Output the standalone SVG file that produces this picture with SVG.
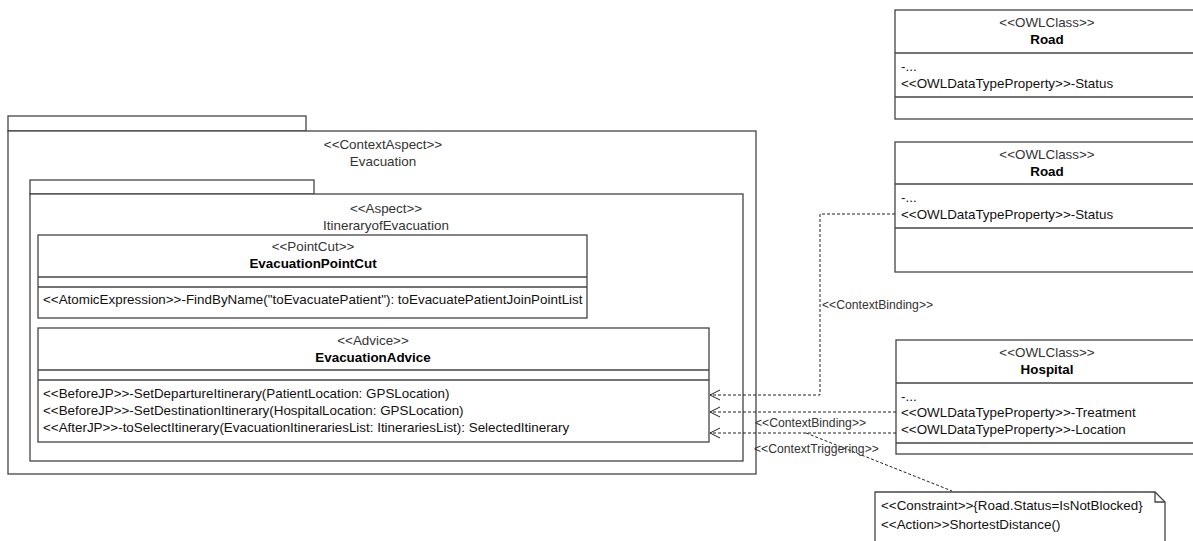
<svg xmlns="http://www.w3.org/2000/svg" width="1193" height="541" viewBox="0 0 1193 541">
<defs>
<style>
.box{fill:#fff;stroke:#444;stroke-width:1.3}
.ln{stroke:#444;stroke-width:1.3}
.t{font-family:"Liberation Sans",Arial,sans-serif;font-size:13.4px;fill:#111}
.st{font-family:"Liberation Sans",Arial,sans-serif;font-size:13.4px;fill:#333}
.c{text-anchor:middle}
.b{font-weight:bold;fill:#000}
.lbl{font-family:"Liberation Sans",Arial,sans-serif;font-size:12.2px;fill:#333}
.dash{fill:none;stroke:#222;stroke-width:1;stroke-dasharray:3,2}
</style>
<marker id="open" markerWidth="12" markerHeight="12" refX="11" refY="6" orient="auto" markerUnits="userSpaceOnUse">
<path d="M1,1 L11,6 L1,11" fill="none" stroke="#222" stroke-width="1"/>
</marker>
</defs>
<rect width="1193" height="541" fill="#fff"/>

<g id="contextaspect-evacuation">
<rect class="box" x="8" y="116" width="298" height="15"/>
<rect class="box" x="8" y="131" width="748" height="343"/>
<text class="st c" x="383" y="149">&lt;&lt;ContextAspect&gt;&gt;</text>
<text class="st c" x="383" y="166">Evacuation</text>
</g>

<g id="aspect-itinerary">
<rect class="box" x="30" y="180" width="284" height="14"/>
<rect class="box" x="30" y="194" width="713" height="267"/>
<text class="st c" x="386" y="213">&lt;&lt;Aspect&gt;&gt;</text>
<text class="st c" x="386" y="230">ItineraryofEvacuation</text>
</g>

<g id="pointcut">
<rect class="box" x="38" y="235" width="549" height="83"/>
<line class="ln" x1="38" y1="277" x2="587" y2="277"/>
<line class="ln" x1="38" y1="287" x2="587" y2="287"/>
<text class="st c" x="313" y="251">&lt;&lt;PointCut&gt;&gt;</text>
<text class="t c b" x="313" y="268">EvacuationPointCut</text>
<text class="t" x="43" y="304">&lt;&lt;AtomicExpression&gt;&gt;-FindByName("toEvacuatePatient"): toEvacuatePatientJoinPointList</text>
</g>

<g id="advice">
<rect class="box" x="38" y="328" width="671" height="114"/>
<line class="ln" x1="38" y1="370" x2="709" y2="370"/>
<line class="ln" x1="38" y1="380" x2="709" y2="380"/>
<text class="st c" x="373" y="345">&lt;&lt;Advice&gt;&gt;</text>
<text class="t c b" x="373" y="362">EvacuationAdvice</text>
<text class="t" x="43" y="398">&lt;&lt;BeforeJP&gt;&gt;-SetDepartureItinerary(PatientLocation: GPSLocation)</text>
<text class="t" x="43" y="415">&lt;&lt;BeforeJP&gt;&gt;-SetDestinationItinerary(HospitalLocation: GPSLocation)</text>
<text class="t" x="43" y="432">&lt;&lt;AfterJP&gt;&gt;-toSelectItinerary(EvacuationItinerariesList: ItinerariesList): SelectedItinerary</text>
</g>

<g id="road1">
<rect class="box" x="895" y="10" width="305" height="109"/>
<line class="ln" x1="895" y1="53" x2="1200" y2="53"/>
<line class="ln" x1="895" y1="97" x2="1200" y2="97"/>
<text class="st c" x="1047" y="27">&lt;&lt;OWLClass&gt;&gt;</text>
<text class="t c b" x="1047" y="44">Road</text>
<text class="t" x="901" y="71">-...</text>
<text class="t" x="901" y="88">&lt;&lt;OWLDataTypeProperty&gt;&gt;-Status</text>
</g>

<g id="road2">
<rect class="box" x="895" y="142" width="305" height="130"/>
<line class="ln" x1="895" y1="184" x2="1200" y2="184"/>
<line class="ln" x1="895" y1="228" x2="1200" y2="228"/>
<text class="st c" x="1047" y="159">&lt;&lt;OWLClass&gt;&gt;</text>
<text class="t c b" x="1047" y="176">Road</text>
<text class="t" x="901" y="202">-...</text>
<text class="t" x="901" y="219">&lt;&lt;OWLDataTypeProperty&gt;&gt;-Status</text>
</g>

<g id="hospital">
<rect class="box" x="896" y="340" width="305" height="114"/>
<line class="ln" x1="896" y1="383" x2="1201" y2="383"/>
<line class="ln" x1="896" y1="443" x2="1201" y2="443"/>
<text class="st c" x="1047" y="357">&lt;&lt;OWLClass&gt;&gt;</text>
<text class="t c b" x="1047" y="374">Hospital</text>
<text class="t" x="901" y="401">-...</text>
<text class="t" x="901" y="417">&lt;&lt;OWLDataTypeProperty&gt;&gt;-Treatment</text>
<text class="t" x="901" y="434">&lt;&lt;OWLDataTypeProperty&gt;&gt;-Location</text>
</g>

<g id="note">
<path class="box" d="M875,492 L1155,492 L1165,502 L1165,560 L875,560 Z"/>
<path d="M1155,492 L1155,502 L1165,502" fill="none" stroke="#444" stroke-width="1.3"/>
<text class="t" x="881" y="510">&lt;&lt;Constraint&gt;&gt;{Road.Status=IsNotBlocked}</text>
<text class="t" x="881" y="529">&lt;&lt;Action&gt;&gt;ShortestDistance()</text>
</g>

<g id="connectors">
<path class="dash" d="M895,214 L820,214 L820,395 L710,395" marker-end="url(#open)"/>
<path class="dash" d="M896,412 L710,412" marker-end="url(#open)"/>
<path class="dash" d="M896,433 L710,433" marker-end="url(#open)"/>
<path class="dash" d="M806,433 L952,491"/>
<text class="lbl" x="822" y="309">&lt;&lt;ContextBinding&gt;&gt;</text>
<text class="lbl" x="755" y="427">&lt;&lt;ContextBinding&gt;&gt;</text>
<text class="lbl" x="754" y="453">&lt;&lt;ContextTriggering&gt;&gt;</text>
</g>
</svg>
